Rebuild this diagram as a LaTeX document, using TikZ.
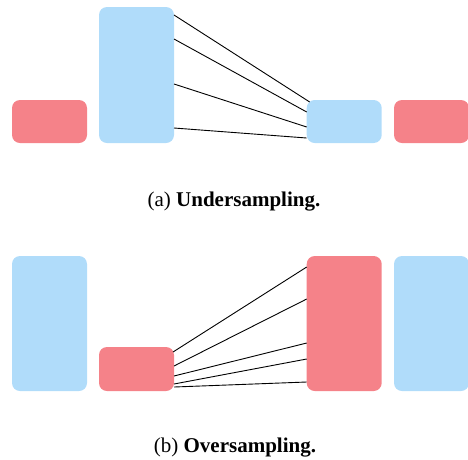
\documentclass[tikz,border=0pt]{standalone}
\usepackage{fontspec}
\setmainfont{Liberation Serif}
\definecolor{redbox}{RGB}{245,130,137}
\definecolor{bluebox}{RGB}{176,220,250}
\begin{document}
\begin{tikzpicture}[x=1pt,y=-1pt,
  box/.style={rounded corners=8pt, inner sep=0pt, outer sep=0pt, anchor=north west, minimum width=75pt},
  redb/.style={box, fill=redbox},
  blueb/.style={box, fill=bluebox},
  link/.style={draw=black, line width=0.9pt},
  captext/.style={anchor=base, font=\fontsize{21}{25}\selectfont, inner sep=0pt}]
\useasboundingbox (0,0) rectangle (468,459);
% (a) undersampling
\node[redb, minimum height=43pt] (ra) at (12,100) {};
\node[blueb, minimum height=136pt] (bta) at (99,7) {};
\node[blueb, minimum height=43pt] (bsa) at (306.7,100) {};
\node[redb, minimum height=43pt] (rra) at (394,100) {};
\draw[link] ([yshift=-8pt]bta.north east) -- ([xshift=3pt,yshift=-2pt]bsa.north west);
\draw[link] ([yshift=-32pt]bta.north east) -- ([yshift=-12pt]bsa.north west);
\draw[link] ([yshift=-77pt]bta.north east) -- ([yshift=-27pt]bsa.north west);
\draw[link] ([yshift=-121pt]bta.north east) -- ([yshift=-38pt]bsa.north west);
\node[captext] (capa) at (234,206) {(a) \textbf{Undersampling.}};
% (b) oversampling
\node[blueb, minimum height=135pt] (bb) at (12,256) {};
\node[redb, minimum height=44pt] (rsb) at (99,347) {};
\node[redb, minimum height=135pt] (rtb) at (306.7,256) {};
\node[blueb, minimum height=135pt] (brb) at (394,256) {};
\draw[link] ([xshift=-1pt,yshift=-5pt]rsb.north east) -- ([yshift=-11pt]rtb.north west);
\draw[link] ([yshift=-19pt]rsb.north east) -- ([yshift=-43pt]rtb.north west);
\draw[link] ([yshift=-29pt]rsb.north east) -- ([yshift=-87pt]rtb.north west);
\draw[link] ([yshift=-37pt]rsb.north east) -- ([yshift=-103pt]rtb.north west);
\draw[link] ([yshift=-40pt]rsb.north east) -- ([yshift=-126pt]rtb.north west);
\node[captext] (capb) at (235,452) {(b) \textbf{Oversampling.}};
\end{tikzpicture}
\end{document}
